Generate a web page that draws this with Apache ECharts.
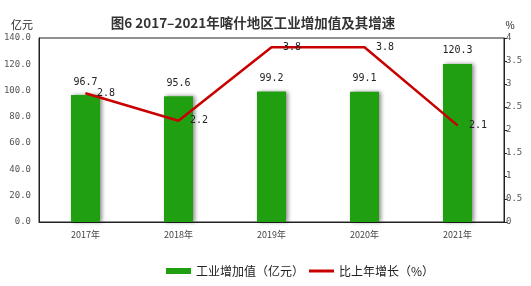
<!DOCTYPE html>
<html><head><meta charset="utf-8">
<script src="https://cdn.jsdelivr.net/npm/echarts@6/dist/echarts.min.js"></script>
<style>html,body{margin:0;padding:0;background:#fff}#c{width:531px;height:286px}</style>
</head><body><div id="c"></div>
<script>
const categories = ['2017年','2018年','2019年','2020年','2021年'];
const valueAdded = [96.7, 95.6, 99.2, 99.1, 120.3];
const growth = [2.8, 2.2, 3.8, 3.8, 2.1];
const leftTicks = [0,20,40,60,80,100,120,140];
const rightTicks = [0,0.5,1,1.5,2,2.5,3,3.5,4];

const mono = 'DejaVu Sans Mono';
const chart = echarts.init(document.getElementById('c'));
chart.setOption({
  animation: false,
  backgroundColor: '#fff',
  title: {
    text: '图6 2017–2021年喀什地区工业增加值及其增速',
    left: 248, top: 11, textAlign: 'center',
    textStyle: {fontFamily: 'Noto Sans CJK SC', fontSize: 13.5, fontWeight: 'bold', color: '#333'}
  },
  legend: {
    bottom: 4, left: 161, itemWidth: 25, itemHeight: 6, itemGap: 5,
    textStyle: {fontFamily: 'Noto Sans CJK SC', fontSize: 12, color: '#222'},
    data: [{name: '工业增加值（亿元）', icon: 'rect'}, {name: '比上年增长（%）', icon: 'path://M0,0H25V3H0Z'}]
  },
  grid: {left: 39, right: 27, top: 38, bottom: 64, show: true, borderColor: '#222', borderWidth: 1},
  xAxis: {
    type: 'category', data: categories,
    axisLine: {lineStyle: {color: '#222'}}, axisTick: {show: false},
    axisLabel: {fontFamily: 'Noto Sans CJK SC', fontSize: 9, color: '#444', margin: 8}
  },
  yAxis: [{
    type: 'value', min: leftTicks[0], max: leftTicks[leftTicks.length-1], interval: 20,
    name: '亿元', nameLocation: 'end', nameGap: 8,
    nameTextStyle: {fontFamily: 'Noto Sans CJK SC', fontSize: 11, color: '#222', align: 'center', padding: [0, 34, 0, 0]},
    axisLine: {show: true, lineStyle: {color: '#222'}}, axisTick: {show: false}, splitLine: {show: false},
    axisLabel: {fontFamily: mono, fontSize: 9, color: '#555', margin: 8, formatter: v => v.toFixed(1)}
  }, {
    type: 'value', min: rightTicks[0], max: rightTicks[rightTicks.length-1], interval: 0.5,
    name: '%', nameLocation: 'end', nameGap: 8,
    nameTextStyle: {fontFamily: 'Noto Sans CJK SC', fontSize: 10, color: '#222', align: 'center', padding: [0, 0, 0, 12]},
    axisLine: {show: true, lineStyle: {color: '#222'}},
    axisTick: {show: true, inside: false, length: 3, lineStyle: {color: '#222'}}, splitLine: {show: false},
    axisLabel: {fontFamily: mono, fontSize: 9, color: '#555', margin: 2, formatter: v => String(v)}
  }],
  series: [{
    name: '工业增加值（亿元）', type: 'bar', data: valueAdded, barWidth: 29, yAxisIndex: 0,
    itemStyle: {color: '#20a010', shadowColor: 'rgba(0,0,0,0.45)', shadowBlur: 4, shadowOffsetX: 2, shadowOffsetY: 0},
    label: {show: true, position: 'top', distance: 8, fontFamily: mono, fontSize: 10, color: '#222', formatter: p => p.value.toFixed(1)}
  }, {
    name: '比上年增长（%）', type: 'line', data: growth, yAxisIndex: 1,
    symbol: 'circle', symbolSize: 1, showSymbol: true,
    lineStyle: {color: '#c80000', width: 2.5}, itemStyle: {color: '#c80000'},
    label: {show: true, position: 'right', distance: 11, fontFamily: mono, fontSize: 10, color: '#222', formatter: p => p.value.toFixed(1)}
  }]
});
</script></body></html>
